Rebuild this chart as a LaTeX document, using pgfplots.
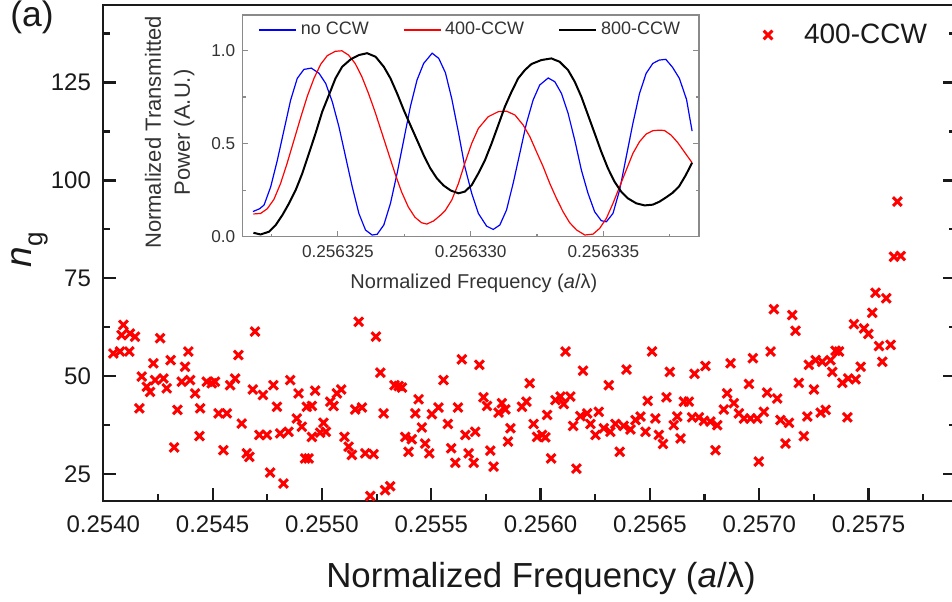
\documentclass[border=0pt]{standalone}
\usepackage{pgfplots}
\pgfplotsset{compat=1.18}
\usepackage{fontspec}
\setmainfont{Liberation Sans}
\definecolor{txt}{HTML}{1A1A1A}
\definecolor{itxt}{HTML}{333333}
\definecolor{iframe}{HTML}{8A8A8A}
\begin{document}
\begin{tikzpicture}
\pgfplotsset{/pgf/number format/assume math mode=true}
\begin{axis}[
  at={(0pt,0pt)}, anchor=south west,
  scale only axis, width=426.35pt, height=247.85pt,
  xmin=0.2540, xmax=0.2579, ymin=18.2, ymax=144.8,
  axis line style={line width=1.2pt, txt},
  tick style={line width=1.1pt, txt},
  tick align=inside,
  major tick length=6.5pt, minor tick length=3.5pt,
  xtick pos=left, ytick pos=both, yticklabel pos=left,
  xtick={0.2540,0.2545,0.2550,0.2555,0.2560,0.2565,0.2570,0.2575},
  minor xtick={0.25425,0.25475,0.25525,0.25575,0.25625,0.25675,0.25725,0.25775},
  ytick={25,50,75,100,125},
  minor ytick={37.5,62.5,87.5,112.5,137.5},
  scaled x ticks=false,
  xticklabel style={/pgf/number format/.cd, fixed, fixed zerofill, precision=4, /tikz/.cd, yshift=-4pt, font=\fontsize{12}{14}\selectfont, text=txt},
  yticklabel style={xshift=-2.65pt, font=\fontsize{12}{14}\selectfont, text=txt},
  xlabel={Normalized Frequency (\textit{a}/λ)},
  xlabel style={at={(axis description cs:0.5133,0)}, anchor=base, yshift=-43.15pt, font=\fontsize{17.4}{20}\selectfont, text=txt},
  ylabel={\textit{n}\raisebox{-0.3em}{\fontsize{13}{13}\selectfont g}},
  ylabel style={at={(axis description cs:-0.0866,0.506)}, anchor=center, font=\fontsize{18.5}{20}\selectfont, text=txt},
  legend style={draw=none, fill=none, at={(axis description cs:0.758,0.9395)}, anchor=west, font=\fontsize{14}{16}\selectfont, text=txt},
  legend image code/.code={\path[draw=none,fill=none] (0pt,0pt) rectangle (22pt,0.1pt); \draw[#1] plot coordinates {(6pt,0pt)};},
]
\addplot[only marks, mark=x, mark size=3.1pt, line width=1.5pt, red]
coordinates {
(0.254046,55.8) (0.254076,56.3) (0.254092,63.1) (0.254084,60.5) (0.254122,60.9)
(0.254145,60.1) (0.254119,56.3) (0.254260,59.7) (0.254229,53.3) (0.254176,49.9)
(0.254199,47.3) (0.254214,46.0) (0.254237,49.0) (0.254275,49.4) (0.254290,46.9)
(0.254308,54.1) (0.254374,52.4) (0.254389,56.3) (0.254359,48.6) (0.254397,49.0)
(0.254420,45.6) (0.254165,41.8) (0.254339,41.4) (0.254324,31.8) (0.254443,41.8)
(0.254440,34.7) (0.254473,48.6) (0.254511,48.6) (0.254496,48.2) (0.254527,40.5)
(0.254565,40.5) (0.254549,31.1) (0.254580,47.7) (0.254603,49.4) (0.254618,55.4)
(0.254633,37.9) (0.254656,30.3) (0.254668,29.4) (0.254694,61.4) (0.254684,46.6)
(0.254730,45.2) (0.254778,47.7) (0.254794,42.2) (0.254714,35.0) (0.254748,35.0)
(0.254809,35.4) (0.254847,35.8) (0.254763,25.4) (0.254824,22.6) (0.254855,49.0)
(0.254893,45.6) (0.254885,39.2) (0.254908,37.1) (0.254923,29.0) (0.254931,42.2)
(0.255168,63.9) (0.255247,60.1) (0.255267,50.9) (0.255332,47.7) (0.255351,47.5)
(0.255366,47.1) (0.255282,40.5) (0.254969,46.3) (0.254954,42.4) (0.255038,43.5)
(0.255053,42.4) (0.255068,45.6) (0.255088,46.6) (0.255152,41.5) (0.255183,42.0)
(0.255007,38.1) (0.255018,35.8) (0.254992,35.6) (0.254954,34.5) (0.255103,34.5)
(0.255122,32.0) (0.255137,29.9) (0.255198,30.3) (0.255236,30.1) (0.254939,29.0)
(0.255221,19.4) (0.255289,20.9) (0.255312,21.9) (0.255442,44.1) (0.255427,40.5)
(0.255503,40.3) (0.255533,42.0) (0.255556,49.0) (0.255576,37.8) (0.255622,42.0)
(0.255640,54.3) (0.255720,52.9) (0.255739,44.6) (0.255755,42.4) (0.255808,40.7)
(0.255823,43.1) (0.255839,41.5) (0.255862,36.7) (0.255851,33.3) (0.255457,36.9)
(0.255381,34.5) (0.255411,33.9) (0.255396,30.7) (0.255472,32.8) (0.255491,30.3)
(0.255591,31.6) (0.255610,27.9) (0.255656,35.0) (0.255701,35.8) (0.255671,30.3)
(0.255694,27.9) (0.255770,31.0) (0.255785,26.9)
(0.256114,56.3) (0.256194,51.4) (0.255950,48.2) (0.256312,47.7) (0.256393,51.7)
(0.256510,56.3) (0.256591,51.1) (0.256704,50.6) (0.256754,52.6) (0.255915,42.2)
(0.255935,43.5) (0.255968,37.8) (0.255984,34.5) (0.256007,35.0) (0.256022,34.4)
(0.256030,40.1) (0.256068,43.9) (0.256091,44.8) (0.256106,42.9) (0.256136,44.8)
(0.256048,29.0) (0.256164,26.4) (0.256149,37.3) (0.256182,39.8) (0.256213,40.5)
(0.256228,37.8) (0.256266,40.9) (0.256251,35.0) (0.256289,36.7) (0.256319,35.8)
(0.256342,37.8) (0.256362,30.7) (0.256380,37.3) (0.256411,36.4) (0.256434,38.8)
(0.256457,39.7) (0.256480,35.8) (0.256490,43.7) (0.256525,39.2) (0.256541,35.0)
(0.256560,32.7) (0.256576,44.6) (0.256609,37.5) (0.256625,39.7) (0.256640,34.1)
(0.256655,43.5) (0.256678,43.5) (0.256693,39.5) (0.256724,39.5) (0.256747,38.6)
(0.256777,38.4) (0.256800,31.1) (0.256808,37.5)
(0.257632,94.6) (0.257616,80.5) (0.257647,80.7) (0.257532,71.3) (0.257581,69.9)
(0.257517,66.2) (0.257433,63.3) (0.257479,62.2) (0.257499,60.8) (0.257548,57.7)
(0.257601,58.0) (0.257563,53.7) (0.257067,67.1) (0.257151,65.6) (0.257166,61.6)
(0.257052,56.3) (0.256971,54.6) (0.256869,53.3) (0.257349,56.5) (0.257365,56.3)
(0.257326,54.1) (0.257288,53.7) (0.257258,54.1) (0.257227,52.9) (0.257334,51.1)
(0.257380,48.3) (0.257407,49.4) (0.257441,49.2) (0.257464,52.4) (0.257181,48.3)
(0.257250,46.6) (0.256953,48.0) (0.257036,45.8) (0.257082,44.3) (0.256853,45.6)
(0.256884,43.1) (0.256838,41.5) (0.256907,40.5) (0.256930,39.2) (0.256960,39.2)
(0.256991,39.2) (0.257021,40.9) (0.257097,38.8) (0.257136,38.1) (0.257220,39.7)
(0.257281,40.7) (0.257304,41.4) (0.257403,39.5) (0.257204,34.7) (0.257120,32.8)
(0.256998,28.2)
};
\addlegendentry{400-CCW}
\end{axis}
\node[anchor=north west, inner sep=0pt, font=\fontsize{17.7}{20}\selectfont, text=txt] at (-46.65pt,250.35pt) {(a)};
\begin{axis}[
  at={(69.5pt,132pt)}, anchor=south west,
  scale only axis, width=228.35pt, height=110.85pt,
  xmin=21.4, xmax=38.6, ymin=0, ymax=1.19,
  axis background/.style={fill=white},
  axis line style={line width=0.6pt, iframe},
  tick style={line width=0.6pt, iframe},
  tick align=inside, major tick length=2.8pt, minor tick length=1.6pt,
  xtick pos=left, ytick pos=both, yticklabel pos=left,
  xtick={25,30,35}, xticklabels={0.256325,0.256330,0.256335},
  minor xtick={22.5,27.5,32.5,37.5},
  ytick={0,0.5,1}, yticklabels={0.0,0.5,1.0},
  minor ytick={0.25,0.75},
  xticklabel style={yshift=-0.9pt, font=\fontsize{8.6}{10}\selectfont, text=itxt},
  yticklabel style={font=\fontsize{8.6}{10}\selectfont, text=itxt},
  xlabel={Normalized Frequency (\textit{a}/λ)},
  xlabel style={at={(axis description cs:0.507,0)}, anchor=base, yshift=-25.95pt, font=\fontsize{10}{12}\selectfont, text=itxt},
  ylabel={Normalized Transmitted\\Power (A.U.)},
  ylabel style={at={(axis description cs:-0.159,0.47)}, anchor=center, align=center, font=\fontsize{11}{14.5}\selectfont, text=itxt},
  legend columns=3,
  legend style={draw=none, fill=none, at={(axis description cs:0.022,0.932)}, anchor=west, font=\fontsize{9}{10}\selectfont, text=itxt, /tikz/every even column/.append style={column sep=15pt}},
  legend image code/.code={\draw[#1] (0pt,0pt) -- (18.5pt,0pt);},
]
\addplot[blue, line width=0.6pt] coordinates {
(21.80,0.135) (22.05,0.150) (22.22,0.170) (22.47,0.268) (22.72,0.411) (22.97,0.572)
(23.22,0.733) (23.47,0.850) (23.72,0.898) (24.00,0.905) (24.29,0.877) (24.54,0.823)
(24.79,0.724) (25.04,0.590) (25.29,0.429) (25.54,0.268) (25.79,0.125) (26.04,0.036)
(26.29,0.009) (26.48,0.013) (26.73,0.063) (26.98,0.179) (27.23,0.340) (27.48,0.519)
(27.73,0.698) (27.98,0.841) (28.23,0.930) (28.55,0.985) (28.80,0.957) (29.05,0.880)
(29.29,0.740) (29.54,0.560) (29.78,0.376) (30.04,0.233) (30.29,0.125) (30.60,0.057)
(30.85,0.039) (31.10,0.063) (31.35,0.143) (31.60,0.286) (31.85,0.447) (32.10,0.608)
(32.35,0.733) (32.60,0.814) (32.92,0.852) (33.17,0.832) (33.42,0.769) (33.67,0.662)
(33.92,0.519) (34.17,0.358) (34.42,0.233) (34.67,0.134) (34.92,0.086) (35.11,0.080)
(35.36,0.125) (35.61,0.250) (35.86,0.429) (36.11,0.608) (36.36,0.769) (36.61,0.877)
(36.86,0.930) (37.10,0.948) (37.35,0.952) (37.60,0.910) (37.86,0.850) (38.13,0.737)
(38.34,0.567)
};
\addlegendentry{no CCW}
\addplot[red, line width=0.6pt] coordinates {
(21.82,0.122) (22.09,0.125) (22.34,0.150) (22.59,0.200) (22.84,0.285) (23.09,0.395)
(23.35,0.520) (23.60,0.640) (23.85,0.755) (24.10,0.850) (24.35,0.925) (24.60,0.972)
(24.90,0.995) (25.15,0.998) (25.40,0.975) (25.65,0.930) (25.90,0.860) (26.15,0.770)
(26.40,0.670) (26.65,0.560) (26.90,0.450) (27.15,0.340) (27.40,0.240) (27.65,0.160)
(27.90,0.105) (28.15,0.075) (28.35,0.068) (28.61,0.085) (28.86,0.115) (29.04,0.140)
(29.29,0.197) (29.54,0.286) (29.78,0.394) (30.04,0.501) (30.29,0.581) (30.66,0.644)
(31.04,0.671) (31.35,0.674) (31.67,0.653) (31.98,0.599) (32.23,0.537) (32.48,0.456)
(32.73,0.376) (32.98,0.286) (33.23,0.206) (33.48,0.134) (33.73,0.075) (33.99,0.036)
(34.30,0.009) (34.61,0.014) (34.86,0.045) (35.11,0.098) (35.36,0.179) (35.61,0.268)
(35.86,0.358) (36.11,0.447) (36.36,0.510) (36.61,0.551) (36.86,0.569) (37.11,0.572)
(37.30,0.570) (37.55,0.545) (37.80,0.505) (38.05,0.455) (38.34,0.397)
};
\addlegendentry{400-CCW}
\addplot[black, line width=1pt] coordinates {
(21.82,0.021) (22.09,0.012) (22.41,0.027) (22.66,0.063) (22.91,0.116) (23.16,0.179)
(23.41,0.250) (23.66,0.340) (23.91,0.447) (24.16,0.555) (24.41,0.671) (24.66,0.760)
(24.91,0.850) (25.16,0.912) (25.48,0.952) (25.79,0.975) (26.10,0.985) (26.42,0.966)
(26.73,0.912) (26.98,0.850) (27.23,0.769) (27.48,0.680) (27.73,0.599) (27.98,0.519)
(28.23,0.438) (28.48,0.367) (28.73,0.313) (28.98,0.275) (29.25,0.248) (29.54,0.233)
(29.78,0.242) (30.04,0.277) (30.29,0.340) (30.54,0.411) (30.79,0.501) (31.04,0.599)
(31.29,0.698) (31.54,0.778) (31.79,0.850) (32.04,0.894) (32.29,0.927) (32.66,0.948)
(33.04,0.957) (33.35,0.939) (33.67,0.894) (33.92,0.832) (34.17,0.751) (34.42,0.653)
(34.67,0.555) (34.92,0.456) (35.17,0.367) (35.42,0.295) (35.67,0.242) (35.92,0.206)
(36.24,0.179) (36.55,0.168) (36.86,0.172) (37.11,0.188) (37.35,0.210) (37.60,0.235)
(37.85,0.270) (38.10,0.330) (38.34,0.397)
};
\addlegendentry{800-CCW}
\end{axis}
\pgfresetboundingbox
\path[use as bounding box] (-51.65pt,-50.15pt) rectangle (424.35pt,250.35pt);
\end{tikzpicture}
\end{document}
